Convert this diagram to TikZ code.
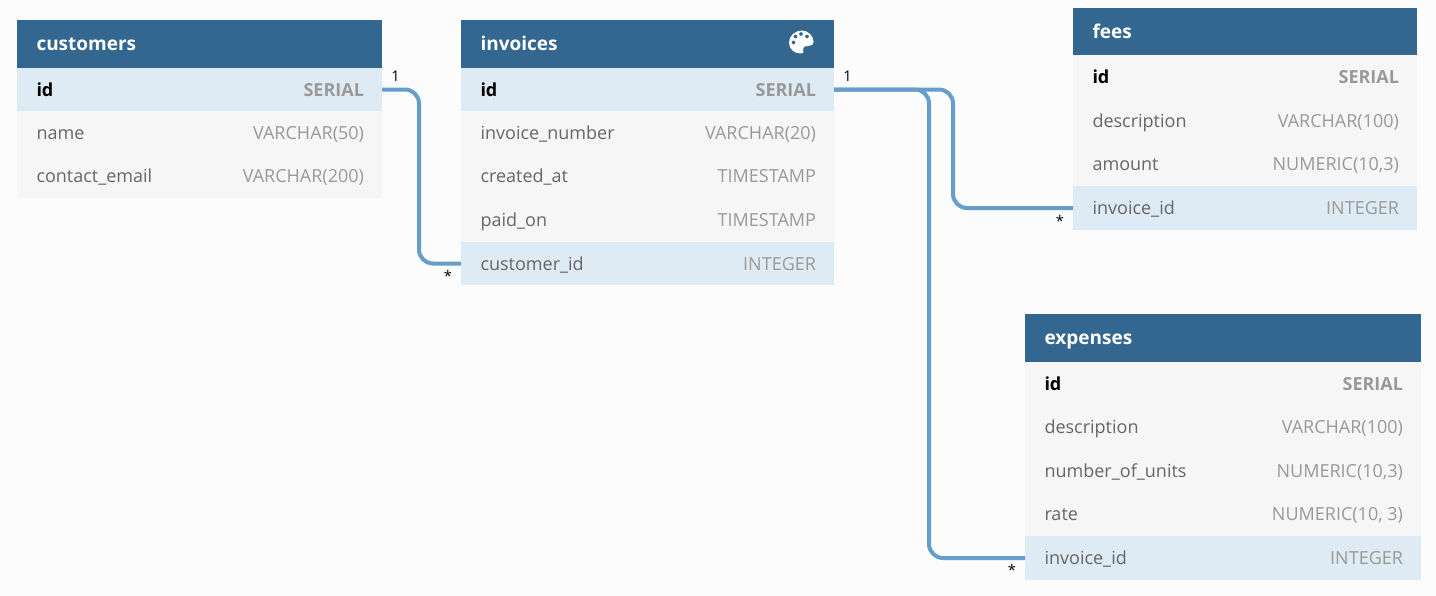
\documentclass[tikz,border=0pt]{standalone}
\usepackage{fontspec}
\setmainfont{Open Sans}
\definecolor{bgc}{HTML}{FCFCFC}
\definecolor{headc}{HTML}{34678F}
\definecolor{keyc}{HTML}{DFEBF4}
\definecolor{rowc}{HTML}{F6F6F6}
\definecolor{linkc}{HTML}{659DCB}
\definecolor{namec}{HTML}{666666}
\definecolor{typec}{HTML}{999999}
\definecolor{serialc}{HTML}{999999}
\tikzset{
  x=0.75pt,y=-0.75pt,
  cell/.style={draw=none,inner sep=0pt,outer sep=0pt,anchor=north west},
  headcell/.style={cell,fill=headc},
  plaincell/.style={cell,fill=rowc},
  keycell/.style={cell,fill=keyc},
  txt/.style={inner sep=0pt,outer sep=0pt,font=\fontsize{13.5pt}{16pt}\selectfont},
  title/.style={txt,anchor=base west,text=white,font=\fontsize{14.25pt}{16pt}\selectfont\bfseries},
  fname/.style={txt,anchor=base west,text=namec},
  fpk/.style={txt,anchor=base west,text=black,font=\fontsize{13.5pt}{16pt}\selectfont\bfseries},
  ftype/.style={txt,anchor=base east,text=typec,font=\fontsize{13.5pt}{16pt}\selectfont},
  fserial/.style={txt,anchor=base east,text=serialc,font=\fontsize{13.5pt}{16pt}\selectfont\bfseries},
  link/.style={draw=linkc,line width=3pt,rounded corners=10.5pt},
  card/.style={inner sep=0pt,outer sep=0pt,text=black,font=\fontsize{11pt}{12pt}\selectfont},
}
% name, style, x1, x2, y1, y2
\newcommand{\tcell}[6]{%
  \pgfmathsetlengthmacro{\cw}{(#4-#3)*0.75pt}%
  \pgfmathsetlengthmacro{\ch}{(#6-#5)*0.75pt}%
  \node[#2,minimum width=\cw,minimum height=\ch] (#1) at (#3,#5) {};}
% name, cellstyle, x1, x2, y1, y2, labelstyle, label, typestyle, type
\newcommand{\trow}[9]{%
  \tcell{#1}{#2}{#3}{#4}{#5}{#6}%
  \node[#7] (#1-n) at ({#3+19.5},{(#5+#6)/2+6.8}) {#8};%
  \trowb{#1}{#4}{#5}{#6}{#9}}
\newcommand{\trowb}[5]{\trowc{#1}{#2}{#3}{#4}{#5}}
\newcommand{\trowc}[6]{%
  \node[#5] (#1-t) at ({#2-18},{(#3+#4)/2+6.8}) {#6};}
\begin{document}
\begin{tikzpicture}
\useasboundingbox (0,0) rectangle (1436,596);
\fill[bgc] (0,0) rectangle (1436,596);

% customers
\tcell{ch}{headcell}{17}{382}{20}{68}
\node[title] (cht) at (36.5,50.5) {customers};
\trow{c1}{keycell}{17}{382}{68}{111}{fpk}{id}{fserial}{SERIAL}
\trow{c2}{plaincell}{17}{382}{111}{154}{fname}{name}{ftype}{VARCHAR(50)}
\trow{c3}{plaincell}{17}{382}{154}{198}{fname}{contact\_email}{ftype}{VARCHAR(200)}

% invoices
\tcell{ih}{headcell}{461}{834}{20}{68}
\node[title] (iht) at (480.5,50.5) {invoices};
\trow{i1}{keycell}{461}{834}{68}{111}{fpk}{id}{fserial}{SERIAL}
\trow{i2}{plaincell}{461}{834}{111}{154}{fname}{invoice\_number}{ftype}{VARCHAR(20)}
\trow{i3}{plaincell}{461}{834}{154}{198}{fname}{created\_at}{ftype}{TIMESTAMP}
\trow{i4}{plaincell}{461}{834}{198}{242}{fname}{paid\_on}{ftype}{TIMESTAMP}
\trow{i5}{keycell}{461}{834}{242}{285}{fname}{customer\_id}{ftype}{INTEGER}

% palette icon
\fill[white,even odd rule]
  (802,30.5) .. controls (808,30.5) and (813.5,36) .. (813.5,41.5)
  .. controls (813.5,45) and (811,46) .. (808,46)
  .. controls (805,46) and (803,46.5) .. (803,49)
  .. controls (803,51) and (805,53.5) .. (800,53.5)
  .. controls (794,53.5) and (789,48.5) .. (789,42.5)
  .. controls (789,36) and (795,30.5) .. (802,30.5) -- cycle
  (793.5,42.5) circle[radius=2]
  (795.5,36.5) circle[radius=2]
  (801,34) circle[radius=2]
  (807,36.5) circle[radius=2];

% fees
\tcell{fh}{headcell}{1073}{1417}{8}{55}
\node[title] (fht) at (1092.5,38.5) {fees};
\trow{f1}{plaincell}{1073}{1417}{55}{99}{fpk}{id}{fserial}{SERIAL}
\trow{f2}{plaincell}{1073}{1417}{99}{142}{fname}{description}{ftype}{VARCHAR(100)}
\trow{f3}{plaincell}{1073}{1417}{142}{186}{fname}{amount}{ftype}{NUMERIC(10,3)}
\trow{f4}{keycell}{1073}{1417}{186}{230}{fname}{invoice\_id}{ftype}{INTEGER}

% expenses
\tcell{eh}{headcell}{1025}{1421}{314}{362}
\node[title] (eht) at (1044.5,344.5) {expenses};
\trow{e1}{plaincell}{1025}{1421}{362}{405}{fpk}{id}{fserial}{SERIAL}
\trow{e2}{plaincell}{1025}{1421}{405}{449}{fname}{description}{ftype}{VARCHAR(100)}
\trow{e3}{plaincell}{1025}{1421}{449}{492}{fname}{number\_of\_units}{ftype}{NUMERIC(10,3)}
\trow{e4}{plaincell}{1025}{1421}{492}{536}{fname}{rate}{ftype}{NUMERIC(10, 3)}
\trow{e5}{keycell}{1025}{1421}{536}{580}{fname}{invoice\_id}{ftype}{INTEGER}

% connectors
\coordinate (b1) at (419,176);
\coordinate (b2) at (953,150);
\coordinate (b3) at (929,320);
\draw[link] (c1.east) -| (b1) |- (i5.west);
\draw[link] (i1.east) -| (b2) |- (f4.west);
\draw[link] (i1.east) -| (b3) |- (e5.west);

% cardinalities
\node[card] (l1) at (395.5,76) {1};
\node[card] (l2) at (448,276) {*};
\node[card] (l3) at (847.5,76) {1};
\node[card] (l4) at (1060,221) {*};
\node[card] (l5) at (1012,570) {*};
\end{tikzpicture}
\end{document}
